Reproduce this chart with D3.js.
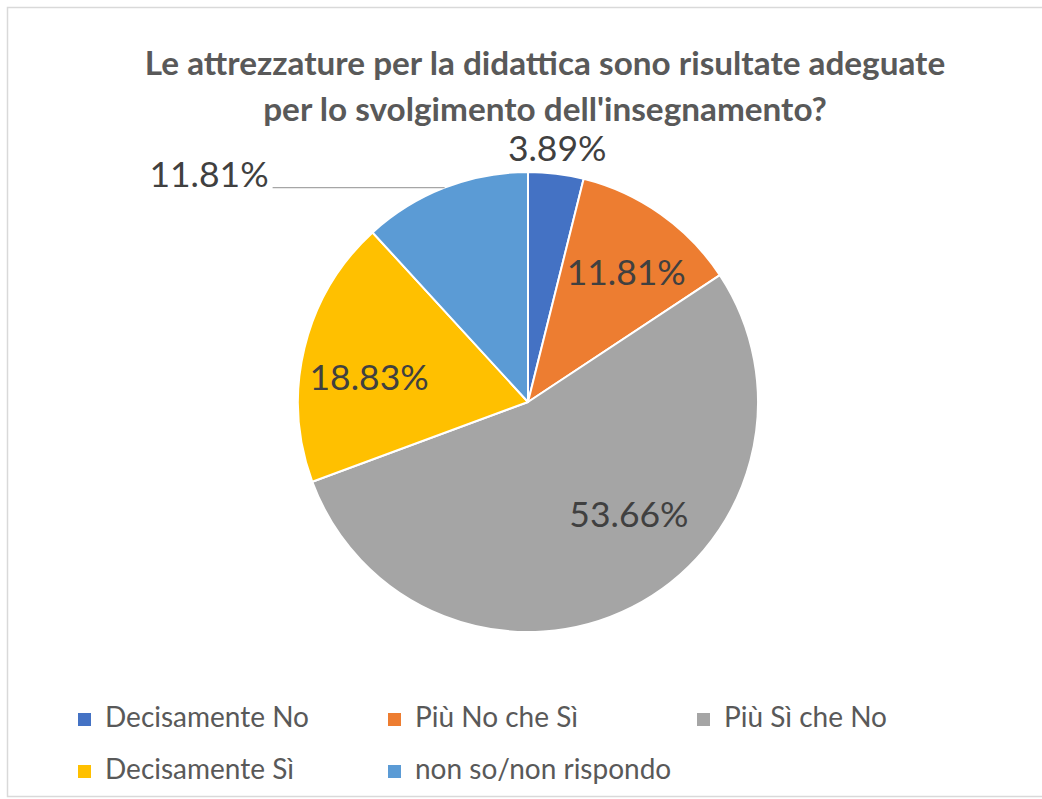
<!DOCTYPE html>
<html>
<head>
<meta charset="utf-8">
<script src="https://cdn.jsdelivr.net/npm/d3@7"></script>
<style>
  html, body { margin: 0; padding: 0; background: #fff; }
  svg { display: block; }
</style>
</head>
<body>
<svg id="chart" width="1042" height="799"></svg>
<script>
// ---- data ----
const titleLines = ["Le attrezzature per la didattica sono risultate adeguate", "per lo svolgimento dell'insegnamento?"];
const categories = ["Decisamente No", "Più No che Sì", "Più Sì che No", "Decisamente Sì", "non so/non rispondo"];
const values = [3.89, 11.81, 53.66, 18.83, 11.81];
const valueLabels = ["3.89%", "11.81%", "53.66%", "18.83%", "11.81%"];
const colors = ["#4472C4", "#ED7D31", "#A5A5A5", "#FFC000", "#5B9BD5"];

// ---- layout ----
const W = 1042, H = 799;
const cx = 528, cy = 402, R = 230;
const FONT = "Lato, 'Open Sans', 'Noto Sans', sans-serif";
const svg = d3.select("#chart");

svg.append("rect").attr("x", 0).attr("y", 0).attr("width", W).attr("height", H).attr("fill", "#fff");
svg.append("rect").attr("x", 7.5).attr("y", 7.5).attr("width", W + 20).attr("height", 789)
  .attr("fill", "none").attr("stroke", "#d9d9d9").attr("stroke-width", 1.5);

// title
svg.append("g").selectAll("text").data(titleLines).join("text")
  .attr("x", 545).attr("y", (d, i) => 75 + i * 46)
  .attr("text-anchor", "middle")
  .attr("font-family", FONT).attr("font-weight", 700).attr("font-size", 33.3)
  .attr("fill", "#595959")
  .text(d => d);

// pie
const pie = d3.pie().sort(null).value(d => d)(values);
const arc = d3.arc().innerRadius(0).outerRadius(R);
const g = svg.append("g").attr("transform", `translate(${cx},${cy})`);
g.selectAll("path").data(pie).join("path")
  .attr("d", arc)
  .attr("fill", (d, i) => colors[i])
  .attr("stroke", "#fff").attr("stroke-width", 2).attr("stroke-linejoin", "round");

// labels
// placement: inside (radius fraction, angle shift) / outside end / leader-line left
const placement = [
  { type: "out", gap: 26 },
  { type: "in", k: 0.71, da: 0.03 },
  { type: "in", k: 0.655, da: -0.265 },
  { type: "in", k: 0.70, da: -0.075 },
  { type: "leader", len: 172 }
];
const labelStyle = sel => sel.attr("font-family", FONT).attr("font-size", 35.5).attr("fill", "#404040");

pie.forEach((d, i) => {
  const p = placement[i];
  const mid = (d.startAngle + d.endAngle) / 2;
  if (p.type === "in") {
    const a = mid + p.da, r = R * p.k;
    g.append("text").call(labelStyle)
      .attr("x", r * Math.sin(a)).attr("y", -r * Math.cos(a))
      .attr("text-anchor", "middle").attr("dominant-baseline", "central")
      .text(valueLabels[i]);
  } else if (p.type === "out") {
    const r = R + p.gap;
    g.append("text").call(labelStyle)
      .attr("x", r * Math.sin(mid) - 2).attr("y", -r * Math.cos(mid))
      .attr("text-anchor", "middle").attr("dominant-baseline", "central")
      .text(valueLabels[i]);
  } else {
    const ex = R * Math.sin(mid), ey = -R * Math.cos(mid);
    g.append("line")
      .attr("x1", ex).attr("y1", ey).attr("x2", ex - p.len).attr("y2", ey)
      .attr("stroke", "#a6a6a6").attr("stroke-width", 1.2);
    g.append("text").call(labelStyle)
      .attr("x", ex - p.len - 4).attr("y", ey - 1)
      .attr("text-anchor", "end")
      .text(valueLabels[i]);
  }
});

// legend
const legendCols = [78, 388, 697];
const legendRows = [727, 779];
const lg = svg.append("g");
categories.forEach((c, i) => {
  const x = legendCols[i % 3], y = legendRows[Math.floor(i / 3)];
  lg.append("rect").attr("x", x).attr("y", y - 14).attr("width", 13).attr("height", 13).attr("fill", colors[i]);
  lg.append("text").attr("x", x + 27).attr("y", y)
    .attr("font-family", FONT).attr("font-size", 28).attr("fill", "#595959")
    .text(c);
});
</script>
</body>
</html>
